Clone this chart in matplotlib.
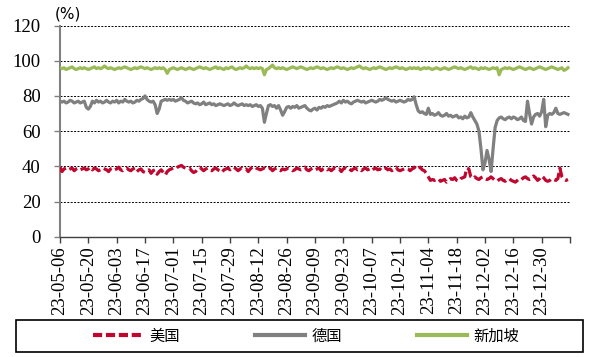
import matplotlib
matplotlib.use('Agg')
import matplotlib.pyplot as plt
import numpy as np
import pandas as pd
from matplotlib.patches import Rectangle
from matplotlib.lines import Line2D
from matplotlib.font_manager import FontProperties

plt.rcParams['font.family'] = ['Liberation Serif', 'DejaVu Serif']

# ---- data ----
dates = pd.date_range('2023-05-06', periods=252, freq='D')
tick_labels = ['23-05-06', '23-05-20', '23-06-03', '23-06-17', '23-07-01', '23-07-15',
               '23-07-29', '23-08-12', '23-08-26', '23-09-09', '23-09-23', '23-10-07',
               '23-10-21', '23-11-04', '23-11-18', '23-12-02', '23-12-16', '23-12-30']
series_names = ['美国', '德国', '新加坡']

usa = [
    39.5, 37, 38.5, 39, 38, 38.5, 39, 37.5, 38.5, 39, 38, 38.5, 39, 38,
    38.5, 39.5, 38, 39, 38.5, 37.5, 38, 39, 38.5, 38, 37, 38.5, 39, 38,
    38.5, 39.5, 38, 37.5, 38.5, 39, 38, 37.5, 38.5, 39, 37, 38, 38.5, 37,
    36.5, 37.5, 38, 36, 37.5, 38, 35.5, 37, 38, 36.5, 35, 37, 38, 38.5,
    39, 38.5, 39.5, 40, 40.5, 39.5, 39, 38.5, 39, 37.5, 36.5, 37, 38.5, 39.5,
    38.5, 37.5, 38.5, 39, 38, 37.5, 38.5, 39, 38, 37.5, 36.5, 38, 38.5, 39,
    38, 39, 39.5, 38.5, 37.5, 38.5, 39, 38, 38.5, 37, 38.5, 39.5, 40, 39,
    38.5, 38, 38.5, 39, 38, 38.5, 39, 37.5, 38.5, 39, 38, 37.5, 38.5, 38,
    38.5, 39, 38.5, 37.5, 38, 39, 38.5, 38, 38.5, 39.5, 38, 37.5, 38.5, 39,
    38, 38.5, 39, 37.5, 38.5, 39, 38, 38.5, 37.5, 38.5, 39, 38, 38.5, 37,
    38.5, 39, 38, 38.5, 37.5, 38.5, 39, 38, 38.5, 37.5, 38.5, 39, 38, 38.5,
    37.5, 38.5, 39, 38, 38.5, 37.5, 38.5, 39, 38, 38.5, 37.5, 38.5, 39.5, 38,
    37.5, 38, 38.5, 39, 38.5, 37.5, 38.5, 39.5, 38, 39, 39.5, 38, 37.5, 36,
    34, 32, 32.5, 32, 32.5, 33, 31.5, 32, 32.5, 31, 32, 33, 32.5, 33.5,
    32, 31.5, 33, 33.5, 34, 39, 38.5, 34, 33, 34, 33, 32.5, 33.5, 34,
    33, 32.5, 33, 34, 33, 32, 31.5, 32.5, 33, 32, 31.5, 32.5, 33, 32,
    31.5, 31, 32, 33, 32.5, 33.5, 34, 33, 32.5, 33, 34.5, 33.5, 32, 33,
    34.5, 33.5, 32, 31.5, 32, 33, 32.5, 32, 33, 39, 34, 32.5, 32, 32.5,
]

germany = [
    77, 76.5, 77, 76, 76.5, 77.5, 77, 76, 76.5, 77, 76, 76.5, 77, 73.5,
    72.5, 74, 77, 76, 77.5, 76.5, 77, 76, 76.5, 77.5, 76.5, 76, 77, 76.5,
    77.5, 76, 77, 76.5, 78, 77, 76.5, 77, 76, 76.5, 77.5, 77, 78, 78.5,
    80, 78, 77, 76.5, 77, 75, 70, 72.5, 77, 77.5, 78, 77.5, 78, 77.5,
    78, 77, 77.5, 78, 79, 77.5, 77, 76, 76.5, 77, 76, 75.5, 76, 75,
    75.5, 76.5, 75, 75.5, 76, 75, 75.5, 74.5, 75, 75.5, 75, 74.5, 75, 75.5,
    74.5, 75, 76, 75, 74.5, 75, 75.5, 74.5, 75, 74.5, 75, 74, 74.5, 75,
    74, 74.5, 73, 65, 70, 74.5, 75, 74, 74.5, 73, 74.5, 72, 69, 71,
    73.5, 74, 73, 74, 73.5, 74.5, 73, 73.5, 74, 74.5, 73, 72, 71.5, 72.5,
    73, 72, 73.5, 73, 74, 73.5, 74.5, 74, 74.5, 75, 75.5, 76, 77, 76,
    77.5, 76.5, 77, 76, 75.5, 76.5, 77, 77.5, 77, 76.5, 77, 76, 76.5, 77,
    77.5, 77, 76.5, 77, 78, 77.5, 78, 79, 78, 77.5, 77, 77.5, 76.5, 77,
    77.5, 77, 76.5, 77, 78, 77.5, 78, 79.5, 75, 71.5, 70.5, 71, 70, 69.5,
    73, 69.5, 70, 69, 69.5, 70.5, 69, 68.5, 69, 70, 68.5, 69, 68, 68.5,
    69, 67.5, 68, 67, 68.5, 67.5, 68, 70.5, 68, 66, 64, 60, 50, 38,
    42, 49, 44, 37, 50, 62, 66, 67.5, 68, 67, 66.5, 67.5, 68, 67,
    68, 67.5, 66.5, 67, 68, 66, 65.5, 77, 70, 64, 68, 69.5, 70, 68.5,
    71, 78, 62.5, 69, 70, 69.5, 70.5, 73, 70, 69.5, 70, 70.5, 70, 69.5,
]

singapore = [
    96, 95.5, 96, 95, 95.5, 96, 96.5, 95.5, 95, 95.5, 96, 95.5, 96, 95.5,
    95, 95.5, 96, 96.5, 95.5, 96, 95.5, 96, 97, 96, 95.5, 96, 95.5, 95,
    95.5, 96, 95.5, 96, 96.5, 96, 95.5, 95, 95.5, 96, 95.5, 96, 96.5, 96,
    95.5, 96, 95.5, 95, 95.5, 96, 95.5, 96, 95.5, 96, 95, 92.8, 95, 95.5,
    96, 95.5, 95, 95.5, 96, 95.5, 95, 95.5, 96, 95.5, 95, 95.5, 96, 96.5,
    96, 95.5, 96, 95.5, 95, 95.5, 96, 96.5, 95.5, 96, 95.5, 95, 96, 95.5,
    96, 96.5, 95.5, 95, 95.5, 96, 95.5, 96, 97, 96, 95.5, 96, 95.5, 96,
    95.5, 96, 95.5, 92, 95, 95.5, 96.5, 97.5, 96, 95.5, 96, 95.5, 96, 95.5,
    95, 95.5, 96, 96.5, 96, 95.5, 96, 96.5, 96, 95.5, 95, 95.5, 96, 95.5,
    96, 96.5, 96, 95.5, 96, 95.5, 95, 95.5, 96, 95.5, 96, 96.5, 96, 95.5,
    96, 95.5, 95, 95.5, 96, 95.5, 96, 96.5, 97, 96, 95.5, 96, 95.5, 95,
    95.5, 96, 95.5, 96, 96.5, 96, 95.5, 95, 95.5, 96, 95.5, 96, 96.5, 96,
    95.5, 96, 95.5, 95, 95.5, 96, 95.5, 96, 95.5, 96, 95, 95.5, 96, 95.5,
    96, 95.5, 95, 95.5, 96, 95.5, 95, 95.5, 96, 95.5, 95, 95.5, 96, 96.5,
    96, 95.5, 96, 95.5, 95, 95.5, 96, 96.5, 95.5, 96, 95.5, 95, 96, 95.5,
    96, 95.5, 95, 95.5, 96, 95.5, 96, 92, 95, 95.5, 96, 95.5, 96, 95.5,
    95, 95.5, 96, 96.5, 96, 95.5, 95, 95.5, 96, 95.5, 95, 95.5, 96, 96.5,
    96, 95.5, 95, 95.5, 96, 96.5, 96, 95.5, 95, 95.5, 96, 94.5, 95, 96,
]

# ---- styles ----
c_usa = '#C0072F'
c_ger = '#808080'
c_sgp = '#9BBB59'

fig = plt.figure(figsize=(5.89, 3.57), dpi=100)
W, H = 589.0, 357.0
ax = fig.add_axes([60 / W, 1 - 236.7 / H, 510 / W, 211.2 / H])

x = np.arange(len(dates))
ax.plot(x, singapore, color=c_sgp, lw=2.3, solid_joinstyle='round', zorder=3)
ax.plot(x, germany, color=c_ger, lw=2.3, solid_joinstyle='round', zorder=3)
ax.plot(x, usa, color=c_usa, lw=2.3, dashes=(3.2, 1.3), zorder=4)

ax.set_xlim(0, 252)
ax.set_ylim(0, 120)
ax.set_yticks(np.arange(0, 121, 20))
ax.set_xticks(np.arange(0, 253, 14))
ax.set_xticklabels(tick_labels + [''], rotation=90, fontsize=13.5)
ax.tick_params(axis='y', labelsize=13.5)

ax.yaxis.grid(True, linestyle=(0, (2, 1.5)), color='black', lw=0.7)
ax.set_axisbelow(True)
for s in ['top', 'right']:
    ax.spines[s].set_visible(False)
ax.spines['left'].set_color('#808080')
ax.spines['left'].set_linewidth(1.5)
ax.spines['bottom'].set_color('#404040')
ax.spines['bottom'].set_linewidth(1.0)
ax.tick_params(axis='y', length=4, width=1, color='#808080', pad=10)
ax.tick_params(axis='x', length=4, width=1, color='#404040', pad=3)

fig.text(68 / W, 1 - 14 / H, '(%)', ha='center', va='center', fontsize=11,
         fontfamily='DejaVu Sans')

# legend
handles = [Line2D([], [], color=c_usa, lw=3, dashes=(2.2, 0.9)),
           Line2D([], [], color=c_ger, lw=3),
           Line2D([], [], color=c_sgp, lw=3)]
fig.legend(handles, series_names, loc='center', bbox_to_anchor=(306 / W, 1 - 336 / H),
           ncol=3, frameon=False,
           prop=FontProperties(family=['Noto Sans CJK SC', 'DejaVu Sans'], size=11),
           handlelength=3.3, handletextpad=0.4, columnspacing=4.9)
fig.patches.append(Rectangle((16 / W, 1 - 352 / H), 567 / W, 32 / H,
                             transform=fig.transFigure, fill=False,
                             edgecolor='black', lw=1.2))

fig.savefig('out.png', dpi=100)
